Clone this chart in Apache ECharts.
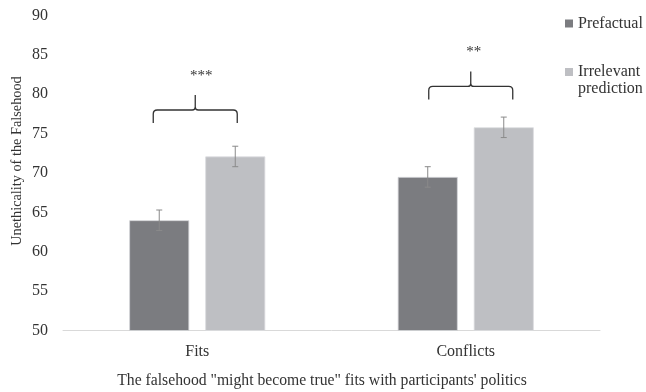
<!DOCTYPE html>
<html>
<head>
<meta charset="utf-8">
<script src="https://cdn.jsdelivr.net/npm/echarts@6/dist/echarts.min.js"></script>
<style>
  html, body { margin: 0; padding: 0; background: #fff; }
  #chart { width: 646px; height: 392px; }
</style>
</head>
<body>
<div id="chart"></div>
<script>
// Unethicality ratings by condition, with standard-error bars
const categories = ['Fits', 'Conflicts'];
const seriesNames = ['Prefactual', 'Irrelevant prediction'];
const prefactual = [64.0, 69.5];
const irrelevant = [72.1, 75.8];
const prefactualSE = [1.3, 1.3];
const irrelevantSE = [1.3, 1.3];
// significance brackets: height of the bracket bar and its stars
const bracketLevel = [78.0, 81.0];
const bracketStars = ['***', '**'];
const yTicks = [50, 55, 60, 65, 70, 75, 80, 85, 90];

const FONT = '"Liberation Serif", "Times New Roman", serif';
const TEXT = '#333';
const colors = ['#7b7c80', '#bebfc3'];

const BAR_W = 60;
const BAR_GAP = '26.7%';

const chart = echarts.init(document.getElementById('chart'));

function errorData(vals, se) {
  return vals.map((v, i) => [i, v - se[i], v + se[i]]);
}

function errorRender(seriesIdx) {
  return function (params, api) {
    const layout = api.barLayout({ barWidth: BAR_W, barGap: BAR_GAP, count: 2 });
    const off = layout[seriesIdx].offsetCenter;
    const lo = api.coord([api.value(0), api.value(1)]);
    const hi = api.coord([api.value(0), api.value(2)]);
    const x = lo[0] + off;
    const cap = 3;
    const style = { stroke: '#8a8a8a', lineWidth: 1, fill: null };
    return {
      type: 'group',
      children: [
        { type: 'line', shape: { x1: x, y1: hi[1], x2: x, y2: lo[1] }, style },
        { type: 'line', shape: { x1: x - cap, y1: hi[1], x2: x + cap, y2: hi[1] }, style },
        { type: 'line', shape: { x1: x - cap, y1: lo[1], x2: x + cap, y2: lo[1] }, style }
      ]
    };
  };
}

// curly bracket drawn above each category pair, nudged sideways a little
const bracketShift = [-2, 5];
const starShift = [6, 3];

function bracketRender(params, api) {
  const i = params.dataIndex;
  const p = api.coord([api.value(0), api.value(1)]);
  const xc = p[0] + bracketShift[i], yh = p[1];
  const half = 42, drop = 13, rise = 15, r = 4, s = 3;
  const x0 = xc - half, x1 = xc + half;
  const path =
    `M${x0},${yh + drop} L${x0},${yh + r} Q${x0},${yh} ${x0 + r},${yh} ` +
    `L${xc - s},${yh} Q${xc},${yh} ${xc},${yh - s} L${xc},${yh - rise} ` +
    `L${xc},${yh - s} Q${xc},${yh} ${xc + s},${yh} ` +
    `L${x1 - r},${yh} Q${x1},${yh} ${x1},${yh + r} L${x1},${yh + drop}`;
  return {
    type: 'group',
    children: [
      { type: 'path', shape: { pathData: path }, style: { stroke: '#333', lineWidth: 1.3, fill: null } },
      {
        type: 'text',
        style: {
          text: bracketStars[i],
          x: xc + starShift[i], y: yh - 34,
          align: 'center', verticalAlign: 'middle',
          font: '15px ' + FONT, fill: TEXT
        }
      }
    ]
  };
}

chart.setOption({
  animation: false,
  color: colors,
  textStyle: { fontFamily: FONT, color: TEXT },
  grid: { left: 63, right: 46, top: 15.5, bottom: 61.5 },
  legend: {
    orient: 'vertical',
    left: 565, top: 15, padding: 0,
    itemWidth: 8, itemHeight: 8, itemGap: 14.5,
    icon: 'rect',
    itemStyle: { borderWidth: 0 },
    textStyle: { fontFamily: FONT, fontSize: 16, color: TEXT, lineHeight: 17 },
    // two-line label hangs below its marker: a blank first line keeps the
    // marker level with "Irrelevant"
    formatter: name => name.indexOf(' ') >= 0 ? '\n' + name.replace(' ', '\n') : name,
    data: seriesNames
  },
  xAxis: {
    type: 'category',
    data: categories,
    axisLine: { lineStyle: { color: '#d9d9d9', width: 1 } },
    axisTick: { show: false },
    axisLabel: { fontFamily: FONT, fontSize: 16, color: TEXT, margin: 13 }
  },
  yAxis: {
    type: 'value',
    min: yTicks[0], max: yTicks[yTicks.length - 1], interval: 5,
    splitLine: { show: false },
    axisLine: { show: false },
    axisTick: { show: false },
    axisLabel: { fontFamily: FONT, fontSize: 16, color: TEXT, margin: 15 }
  },
  graphic: [
    {
      type: 'text',
      style: {
        text: 'The falsehood "might become true" fits with participants\' politics',
        x: 322, y: 381, align: 'center', verticalAlign: 'middle',
        font: '15.7px ' + FONT, fill: TEXT
      }
    },
    {
      type: 'text',
      x: 17, y: 161, rotation: Math.PI / 2,
      style: {
        text: 'Unethicality of the Falsehood',
        align: 'center', verticalAlign: 'middle',
        font: '14.3px ' + FONT, fill: TEXT
      }
    }
  ],
  series: [
    {
      name: seriesNames[0], type: 'bar', data: prefactual,
      barWidth: BAR_W, barGap: BAR_GAP,
      itemStyle: { color: colors[0], borderColor: '#d4d5d8', borderWidth: 0.8 }
    },
    {
      name: seriesNames[1], type: 'bar', data: irrelevant,
      barWidth: BAR_W, barGap: BAR_GAP,
      itemStyle: { color: colors[1], borderColor: '#dcdde0', borderWidth: 0.8 }
    },
    {
      type: 'custom', name: 'errPrefactual', renderItem: errorRender(0),
      data: errorData(prefactual, prefactualSE), z: 10, silent: true
    },
    {
      type: 'custom', name: 'errIrrelevant', renderItem: errorRender(1),
      data: errorData(irrelevant, irrelevantSE), z: 10, silent: true
    },
    {
      type: 'custom', name: 'brackets', renderItem: bracketRender,
      data: bracketLevel.map((v, i) => [i, v]), z: 10, silent: true
    }
  ]
});
</script>
</body>
</html>
